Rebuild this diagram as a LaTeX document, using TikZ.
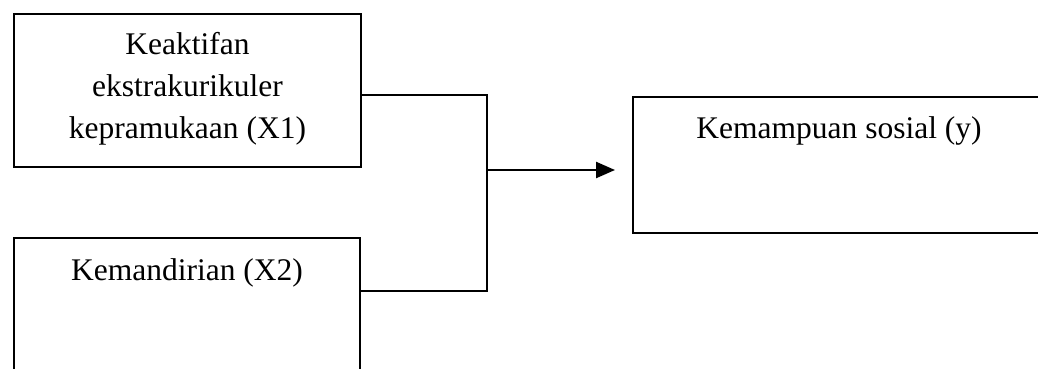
\documentclass[tikz,border=0pt]{standalone}
\usepackage{fontspec}
\setmainfont{Liberation Serif}
\usetikzlibrary{arrows.meta}
\begin{document}
\begin{tikzpicture}[x=1pt,y=-1pt,
  box/.style={draw, line width=2.4pt, rectangle, inner sep=0pt},
  label/.style={font=\fontsize{31.5}{42}\selectfont, inner sep=0pt},
  wire/.style={line width=2.4pt}]
  \clip (0,0) rectangle (1038,369);
  \fill[white] (0,0) rectangle (1038,369);

  % independent variables
  \node[box, minimum width=347pt, minimum height=153pt] (x1) at (187.5,90.5) {};
  \node[label, align=center] (x1t) at (187.5,89)
    {Keaktifan\\ekstrakurikuler\\kepramukaan (X1)};

  \node[box, minimum width=346pt, minimum height=200pt] (x2) at (187,338) {};
  \node[label, anchor=base] (x2t) at (187,280) {Kemandirian (X2)};

  % dependent variable
  \node[box, minimum width=412pt, minimum height=136pt] (y) at (839,165) {};
  \node[label, anchor=base] (yt) at (839,138) {Kemampuan sosial (y)};

  % bracket joining both inputs
  \coordinate (j1) at (487,95);
  \coordinate (j2) at (487,291);
  \coordinate (jm) at (487,170);
  \coordinate (tip) at (615,170);
  \draw[wire] (x1.east |- j1) -- (j1) -- (j2) -- (x2.east |- j2);
  \draw[wire, -{Triangle[length=19pt,width=16pt]}] (jm) -- (tip);
\end{tikzpicture}
\end{document}
